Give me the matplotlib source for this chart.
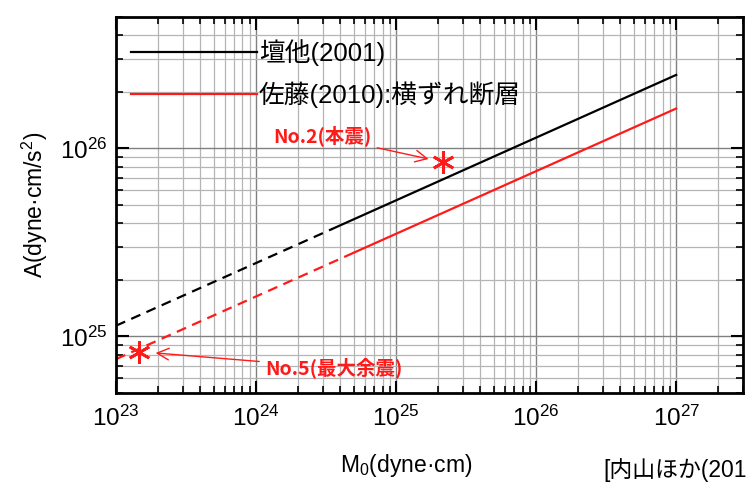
import matplotlib
matplotlib.use("Agg")
import matplotlib.pyplot as plt

plt.rcParams['font.family'] = ['Liberation Sans', 'Noto Sans CJK JP', 'DejaVu Sans']
plt.rcParams['mathtext.default'] = 'regular'

# 壇他(2001): dashed part, then solid part
dan_m0_dash = [1e23, 3.5e24]
dan_a_dash = [1.14e25, 3.73e25]
dan_m0 = [3.5e24, 1e27]
dan_a = [3.73e25, 2.46e26]

# 佐藤(2010): dashed part, then solid part
sato_m0_dash = [1e23, 5e24]
sato_a_dash = [7.57e24, 2.79e25]
sato_m0 = [5e24, 1e27]
sato_a = [2.79e25, 1.63e26]

# events
ev_m0 = [2.18e25, 1.46e23]
ev_a = [8.44e25, 8.3e24]
ev_names = ["No.2(本震)", "No.5(最大余震)"]

fig = plt.figure(figsize=(7.5, 4.91), dpi=100)
ax = fig.add_axes([116/750, 1 - 393/491, 627/750, 376/491])

red = "#ff1a1a"
dash = (0, (4.5, 3))
ax.plot(dan_m0_dash, dan_a_dash, color="black", lw=1.6, linestyle=dash)
ax.plot(dan_m0, dan_a, color="black", lw=1.6, label="壇他(2001)")
ax.plot(sato_m0_dash, sato_a_dash, color=red, lw=1.6, linestyle=dash)
ax.plot(sato_m0, sato_a, color=red, lw=1.6, label="佐藤(2010):横ずれ断層")

ax.plot(ev_m0, ev_a, linestyle="none", marker=(6, 2, 0), markersize=16,
        markeredgewidth=2, color=red)

ax.set_xscale("log")
ax.set_yscale("log")
ax.set_xlim(1e23, 3e27)
ax.set_ylim(5e24, 5e26)

ax.grid(True, which="major", color="#808080", lw=1.0)
ax.grid(True, which="minor", color="#b5b5b5", lw=0.9)
ax.set_axisbelow(True)

ax.tick_params(which="both", direction="in", top=True, right=True,
               labelsize=17.5)
ax.tick_params(axis="x", pad=9)
ax.tick_params(axis="y", pad=6)
ax.tick_params(which="major", length=9, width=1.5)
ax.tick_params(which="minor", length=5, width=1.2)
for s in ax.spines.values():
    s.set_linewidth(2)

ax.set_xlabel("M$_0$(dyne·cm)", fontsize=16.5)
ax.set_ylabel("A(dyne·cm/s$^2$)", fontsize=16.5)
ax.xaxis.set_label_coords((406 - 116) / 627, -(452 - 393) / 376)
ax.yaxis.set_label_coords(-(116 - 50) / 627, 0.5)

ax.legend(loc="upper left", bbox_to_anchor=(-0.004, 0.99), frameon=False,
          fontsize=18.5, handlelength=4.9, handletextpad=0.05, labelspacing=0.6,
          borderaxespad=0.3)

offs = [(-87, 19), (140, -11.5)]
shr = [11, 12]
for m, a, name, off, s in zip(ev_m0, ev_a, ev_names, offs, shr):
    ax.annotate(name, xy=(m, a), xytext=off, textcoords="offset points",
                ha="center", va="center", fontsize=14, fontweight="bold",
                color=red, family=["Noto Sans CJK JP"],
                arrowprops=dict(arrowstyle="->,head_length=0.6,head_width=0.3",
                                color=red, lw=1, shrinkA=2, shrinkB=s))

fig.text(603/750, 1 - 470/491, "[内山ほか(201", fontsize=16.5, va="center",
         ha="left")

fig.savefig("out.png", dpi=100)
